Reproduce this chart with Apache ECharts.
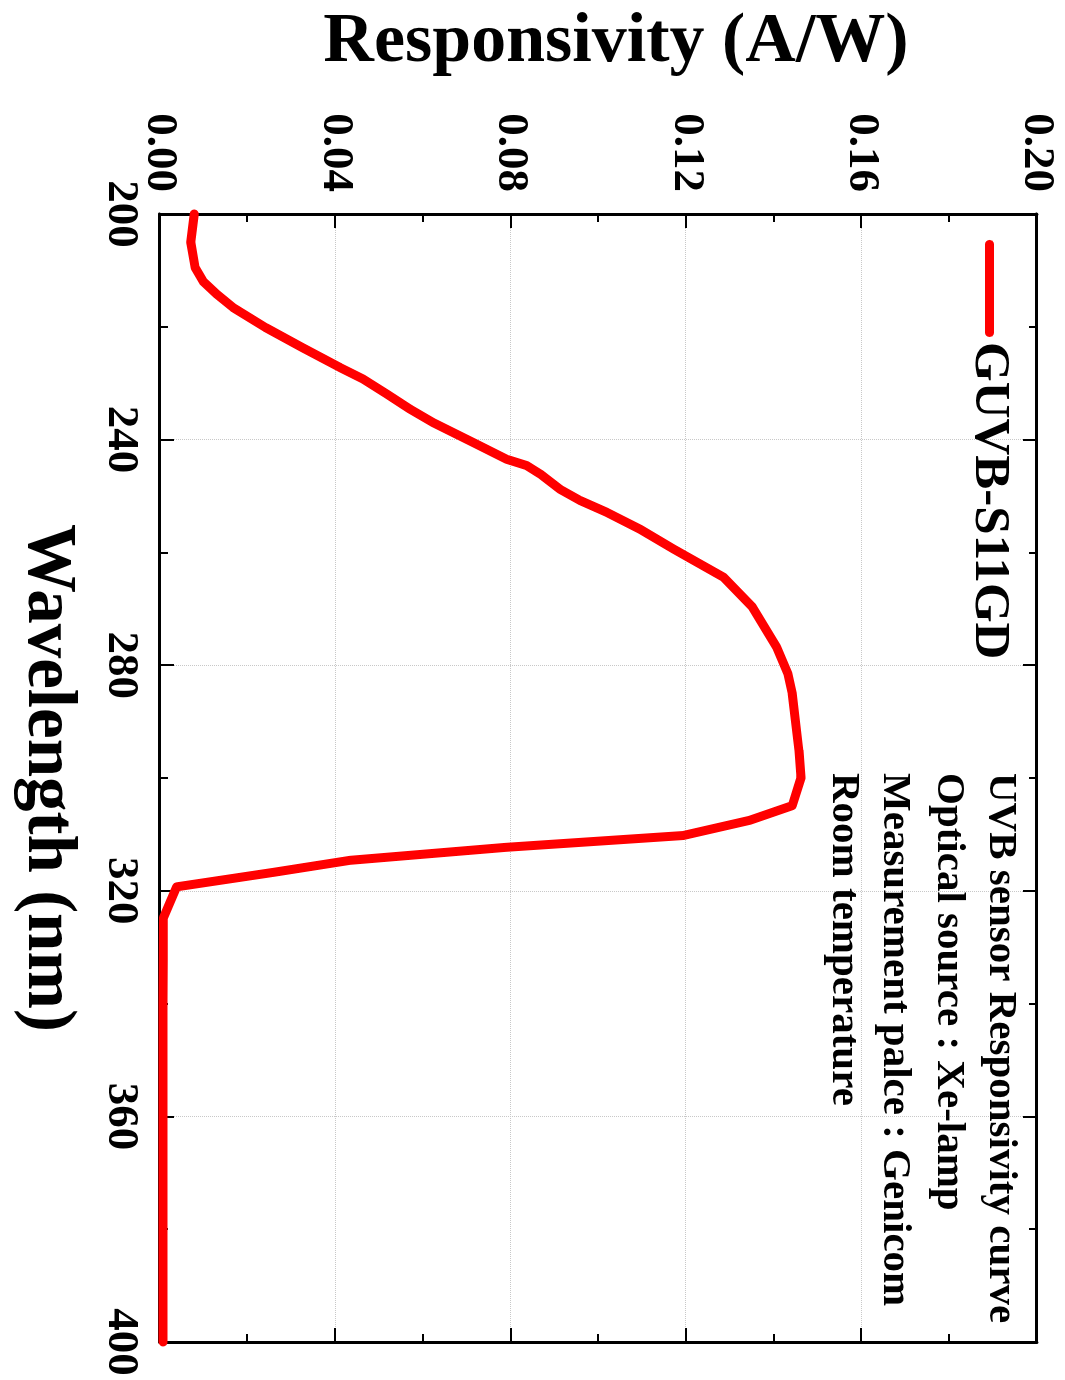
<!DOCTYPE html>
<html>
<head>
<meta charset="utf-8">
<script src="https://cdn.jsdelivr.net/npm/echarts/dist/echarts.min.js"></script>
<style>
  html, body { margin: 0; padding: 0; background: #ffffff; overflow: hidden; }
  #page { position: relative; width: 1065px; height: 1380px; overflow: hidden; background: #fff; }
  #chart { position: absolute; left: 0; top: 0; width: 1380px; height: 1065px;
           transform-origin: 0 0; transform: translateX(1065px) rotate(90deg); }
</style>
</head>
<body>
<div id="page"><div id="chart"></div></div>
<script>
// ---- data ----
const wavelength = [200, 205, 209.5, 212, 214.2, 216.6, 220.1, 223.7, 227.2, 229.3,
  231.9, 234.6, 237, 240.5, 243.5, 244.6, 246.1, 248.8, 250.8, 252.9,
  255.9, 259.4, 264.4, 269.7, 276.8, 281.5, 285.1, 295.1, 299.9, 304.9,
  307.5, 310.2, 312.3, 314.6, 316.7, 319.3, 324.7, 340, 360, 380, 400];
const responsivity = [0.0078, 0.0070, 0.0080, 0.0099, 0.0129, 0.0167, 0.0240, 0.0325, 0.0410, 0.0464,
  0.0517, 0.0570, 0.0623, 0.0714, 0.0791, 0.0836, 0.0867, 0.0912, 0.0958, 0.1019,
  0.1095, 0.1171, 0.1285, 0.1351, 0.1406, 0.1432, 0.1442, 0.1457, 0.1462, 0.1442,
  0.1345, 0.1193, 0.0788, 0.0433, 0.0261, 0.0038, 0.0008, 0.0007, 0.0007, 0.0007, 0.0007];
const wavelengthTicks = [200, 240, 280, 320, 360, 400];
const responsivityTicks = [0.00, 0.04, 0.08, 0.12, 0.16, 0.20];
const seriesName = 'GUVB-S11GD';
const xAxisTitle = 'Wavelength (nm)';
const yAxisTitle = 'Responsivity (A/W)';
const noteLines = ['UVB sensor Responsivity curve', 'Optical source : Xe-lamp',
  'Measurement palce : Genicom', 'Room temperature'];

// ---- chart ----
const FONT = '"Liberation Serif", "Times New Roman", serif';
const chart = echarts.init(document.getElementById('chart'));
const wStep = wavelengthTicks[1] - wavelengthTicks[0];
const rStep = responsivityTicks[1] - responsivityTicks[0];
const frameLine = { show: true, onZero: false, lineStyle: { color: '#000', width: 3 } };
const majorTick = { show: true, inside: true, length: 14, lineStyle: { color: '#000', width: 2 } };
const minorTick = { show: true, splitNumber: 2, length: 8, lineStyle: { color: '#000', width: 2 } };
const grid = { show: true, lineStyle: { color: '#c8c8c8', width: 1, type: 'dotted' } };
const tickFont = { color: '#000', fontFamily: FONT, fontWeight: 'bold', fontSize: 45 };

const noteY = [65, 117, 171, 222];

chart.setOption({
  animation: false,
  backgroundColor: '#fff',
  grid: { left: 213, right: 38, top: 28, bottom: 160, containLabel: false },
  legend: {
    left: 240, top: 50, padding: 0,
    itemWidth: 97, itemHeight: 9,
    data: [{ name: seriesName,
      icon: 'path://M4.5,0 L92.5,0 A4.5,4.5 0 0 1 92.5,9 L4.5,9 A4.5,4.5 0 0 1 4.5,0 Z' }],
    itemStyle: { color: '#ff0000' },
    textStyle: { color: '#000', fontFamily: FONT, fontWeight: 'bold', fontSize: 51 }
  },
  xAxis: [{
    type: 'value', position: 'bottom',
    min: wavelengthTicks[0], max: wavelengthTicks[wavelengthTicks.length - 1], interval: wStep,
    axisLine: frameLine, axisTick: majorTick, minorTick: minorTick, splitLine: grid,
    axisLabel: Object.assign({ margin: 17, showMinLabel: true, showMaxLabel: true }, tickFont),
    name: xAxisTitle, nameLocation: 'middle', nameGap: 79,
    nameTextStyle: { color: '#000', fontFamily: FONT, fontWeight: 'bold', fontSize: 69 }
  }, {
    type: 'value', position: 'top',
    min: wavelengthTicks[0], max: wavelengthTicks[wavelengthTicks.length - 1], interval: wStep,
    axisLine: frameLine, axisTick: majorTick, minorTick: minorTick,
    splitLine: { show: false }, axisLabel: { show: false }
  }],
  yAxis: [{
    type: 'value', position: 'left',
    min: responsivityTicks[0], max: responsivityTicks[responsivityTicks.length - 1], interval: rStep,
    axisLine: frameLine, axisTick: majorTick, minorTick: minorTick, splitLine: grid,
    axisLabel: Object.assign({ margin: 22, showMinLabel: true, showMaxLabel: true,
      formatter: v => v.toFixed(2) }, tickFont),
    name: yAxisTitle, nameLocation: 'middle', nameGap: 136,
    nameTextStyle: { color: '#000', fontFamily: FONT, fontWeight: 'bold', fontSize: 70,
      padding: [0, 0, 0, 35] }
  }, {
    type: 'value', position: 'right',
    min: responsivityTicks[0], max: responsivityTicks[responsivityTicks.length - 1], interval: rStep,
    axisLine: frameLine, axisTick: majorTick, minorTick: minorTick,
    splitLine: { show: false }, axisLabel: { show: false }
  }],
  graphic: noteLines.map((t, i) => ({
    type: 'text', left: 773, top: noteY[i] - 21, z: 10,
    style: { text: t, fill: '#000', font: 'bold 41px ' + FONT }
  })),
  series: [{
    name: seriesName, type: 'line', xAxisIndex: 0, yAxisIndex: 0,
    showSymbol: false, symbol: 'none', clip: true, z: 5,
    lineStyle: { color: '#ff0000', width: 9, cap: 'round', join: 'round' },
    itemStyle: { color: '#ff0000' },
    data: wavelength.map((w, i) => [w, responsivity[i]])
  }]
});
</script>
</body>
</html>
